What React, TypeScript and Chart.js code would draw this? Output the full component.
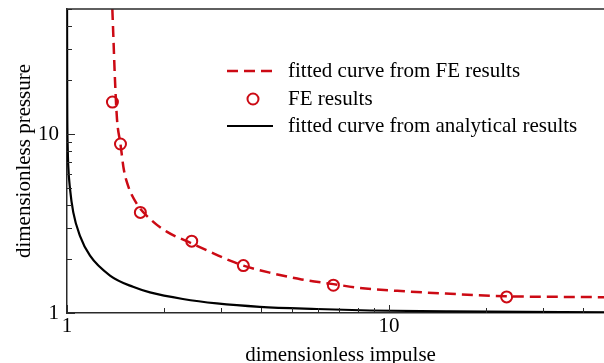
import React, { useEffect, useRef } from 'react';
import { Chart, registerables } from 'chart.js';

Chart.register(...registerables);

// FE results (markers)
const impulseFE = [1.384, 1.466, 1.69, 2.44, 3.53, 6.72, 23.2];
const pressureFE = [15.1, 8.8, 3.65, 2.52, 1.84, 1.43, 1.23];

// fitted curve from FE results (dashed red)
const impulseFitFE = [1.383, 1.394, 1.409, 1.43, 1.466, 1.5, 1.55, 1.65, 1.83, 2.04, 2.44, 2.86, 3.21, 3.53, 4.27, 5.35, 6.72, 8.13, 10.6, 15.5, 23.2, 35, 50];
const pressureFitFE = [50, 34, 20.3, 12.1, 8.8, 6.4, 5.1, 4.06, 3.3, 2.85, 2.45, 2.15, 1.96, 1.84, 1.68, 1.54, 1.45, 1.38, 1.33, 1.28, 1.24, 1.23, 1.225];

// fitted curve from analytical results (solid black)
const impulseFitAn = [1.0004, 1.0015, 1.005, 1.009, 1.022, 1.046, 1.097, 1.179, 1.36, 1.603, 1.81, 2.29, 2.92, 3.97, 5.97, 8.72, 15.4, 50];
const pressureFitAn = [50, 16, 8.5, 6.65, 4.93, 3.65, 2.7, 2.09, 1.62, 1.4, 1.304, 1.198, 1.131, 1.083, 1.053, 1.033, 1.02, 1.009];

// axes
const xTickValues = [1, 2, 3, 4, 5, 6, 7, 8, 9, 10, 20, 30, 40, 50];
const yTickValues = [1, 2, 3, 4, 5, 6, 7, 8, 9, 10, 20, 30, 40, 50];
const majorTicks = [1, 10];
const xLabel = 'dimensionless impulse';
const yLabel = 'dimensionless pressure';
const legendLabels = ['fitted curve from FE results', 'FE results', 'fitted curve from analytical results'];

const RED = '#cc0a14';
const AXIS = '#2a2a2a';
const FONT = { family: "'Liberation Serif', 'Times New Roman', serif", size: 21 };

const framePlugin = {
  id: 'framePlugin',
  afterDraw(chart: any) {
    const { ctx, chartArea: a, scales } = chart;
    const xs = scales.x;
    const ys = scales.y;
    ctx.save();
    ctx.strokeStyle = AXIS;
    ctx.lineWidth = 1.5;
    ctx.beginPath();
    ctx.moveTo(a.left, a.top);
    ctx.lineTo(a.right, a.top);
    ctx.stroke();
    ctx.lineWidth = 1;
    xTickValues.forEach((v) => {
      const px = Math.round(xs.getPixelForValue(v)) + 0.5;
      const len = majorTicks.includes(v) ? 8 : 5;
      ctx.beginPath();
      ctx.moveTo(px, a.bottom);
      ctx.lineTo(px, a.bottom - len);
      ctx.stroke();
    });
    yTickValues.forEach((v) => {
      const py = Math.round(ys.getPixelForValue(v)) + 0.5;
      const len = majorTicks.includes(v) ? 8 : 5;
      ctx.beginPath();
      ctx.moveTo(a.left, py);
      ctx.lineTo(a.left + len, py);
      ctx.stroke();
    });

    // legend
    const lx0 = 227, lx1 = 273, tx = 288;
    const rows = [71, 99, 126];
    ctx.lineWidth = 2.5;
    ctx.strokeStyle = RED;
    ctx.setLineDash([11, 6]);
    ctx.beginPath();
    ctx.moveTo(lx0, rows[0]);
    ctx.lineTo(lx1, rows[0]);
    ctx.stroke();
    ctx.setLineDash([]);
    ctx.lineWidth = 2;
    ctx.beginPath();
    ctx.arc((lx0 + lx1) / 2 + 3, rows[1], 5.5, 0, Math.PI * 2);
    ctx.stroke();
    ctx.strokeStyle = '#000';
    ctx.lineWidth = 2.2;
    ctx.beginPath();
    ctx.moveTo(lx0, rows[2]);
    ctx.lineTo(lx1, rows[2]);
    ctx.stroke();
    ctx.fillStyle = '#000';
    ctx.font = `${FONT.size}px ${FONT.family}`;
    ctx.textAlign = 'left';
    ctx.textBaseline = 'middle';
    legendLabels.forEach((t, i) => ctx.fillText(t, tx, rows[i]));
    ctx.restore();
  },
};

export default function App() {
  const ref = useRef<HTMLCanvasElement | null>(null);

  useEffect(() => {
    if (!ref.current) return;
    const toPts = (xs: number[], ys: number[]) => xs.map((x, i) => ({ x, y: ys[i] }));
    const chart = new Chart(ref.current, {
      type: 'scatter',
      data: {
        datasets: [
          {
            label: legendLabels[2],
            data: toPts(impulseFitAn, pressureFitAn),
            showLine: true,
            borderColor: '#000',
            borderWidth: 2.2,
            pointRadius: 0,
            cubicInterpolationMode: 'monotone',
          },
          {
            label: legendLabels[0],
            data: toPts(impulseFitFE, pressureFitFE),
            showLine: true,
            borderColor: RED,
            borderWidth: 2.5,
            borderDash: [11, 6],
            pointRadius: 0,
            cubicInterpolationMode: 'monotone',
          },
          {
            label: legendLabels[1],
            data: toPts(impulseFE, pressureFE),
            showLine: false,
            borderColor: RED,
            backgroundColor: 'rgba(0,0,0,0)',
            borderWidth: 2,
            pointRadius: 5.5,
          },
        ],
      } as any,
      options: {
        responsive: false,
        animation: false,
        devicePixelRatio: 1,
        layout: { padding: { left: 0, right: 16, top: 9, bottom: 0 } },
        plugins: { legend: { display: false }, tooltip: { enabled: false } },
        scales: {
          x: {
            type: 'logarithmic',
            min: 1,
            max: 50,
            afterFit: (s: any) => { s.height = 55; s.paddingLeft = 0; s.paddingRight = 0; },
            afterBuildTicks: (s: any) => { s.ticks = xTickValues.map((v) => ({ value: v })); },
            grid: { display: false, drawTicks: false },
            border: { display: true, color: AXIS, width: 1.5 },
            ticks: {
              autoSkip: false,
              maxRotation: 0,
              padding: 1,
              color: '#000',
              font: FONT,
              callback: (v: any) => (majorTicks.includes(Number(v)) ? String(v) : ''),
            },
            title: { display: true, text: xLabel, color: '#000', font: FONT, padding: { top: 0, bottom: 0 } },
          },
          y: {
            type: 'logarithmic',
            min: 1,
            max: 50,
            afterFit: (s: any) => { s.width = 67; s.paddingTop = 0; s.paddingBottom = 0; },
            afterBuildTicks: (s: any) => { s.ticks = yTickValues.map((v) => ({ value: v })); },
            grid: { display: false, drawTicks: false },
            border: { display: true, color: AXIS, width: 1.5 },
            ticks: {
              autoSkip: false,
              padding: 8,
              color: '#000',
              font: FONT,
              callback: (v: any) => (majorTicks.includes(Number(v)) ? String(v) : ''),
            },
            title: { display: true, text: yLabel, color: '#000', font: FONT, padding: { top: 12, bottom: 0 } },
          },
        },
      } as any,
      plugins: [framePlugin],
    });
    return () => chart.destroy();
  }, []);

  return (
    <div style={{ position: 'fixed', left: 0, top: 0, width: 604, height: 363, overflow: 'hidden', background: '#fff' }}>
      <canvas ref={ref} width={630} height={368} style={{ display: 'block', width: 630, height: 368 }} />
    </div>
  );
}
